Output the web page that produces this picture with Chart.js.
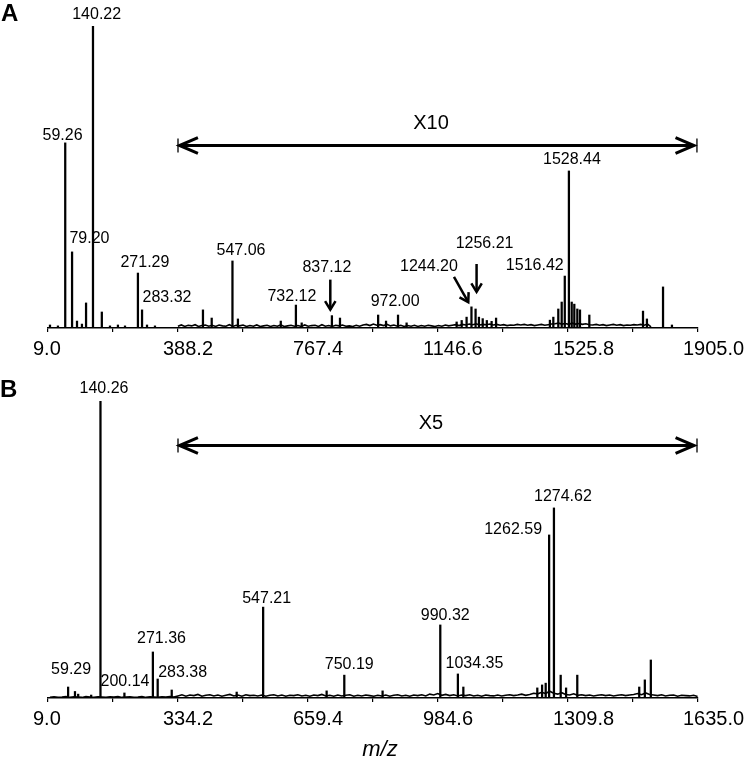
<!DOCTYPE html>
<html>
<head>
<meta charset="utf-8">
<script src="https://cdn.jsdelivr.net/npm/chart.js@4.4.1/dist/chart.umd.min.js"></script>
<style>
  html, body { margin: 0; padding: 0; background: #fff; }
  #wrap { position: relative; width: 745px; height: 760px; }
  canvas { position: absolute; left: 0; }
  #chartA { top: 0; }
  #chartB { top: 370px; }
</style>
</head>
<body>
<div id="wrap">
  <canvas id="chartA" width="745" height="370"></canvas>
  <canvas id="chartB" width="745" height="390"></canvas>
</div>
<script>
// ---- data: panel A ----
const ticksA = [9.0, 388.2, 767.4, 1146.6, 1525.8, 1905.0];
const peakMzA = [14.8, 38, 59.26, 79.20, 93.6, 108, 120, 140.22, 166, 189.8, 213, 233.6, 271.29, 283.32, 297.8, 321,
  461, 486.5, 547.06, 563, 688, 732.12, 749, 837.12, 860.7, 972.00, 995, 1030, 1055,
  1201, 1215.7, 1230, 1244.20, 1256.21, 1266, 1277, 1289, 1303, 1316,
  1473, 1483, 1497.5, 1507.4, 1516.42, 1528.44, 1536.6, 1544.2, 1553, 1560.8, 1588,
  1744.6, 1756, 1803, 1829];
const peakIntA = [1.0, 0.7, 61.3, 25.2, 2.3, 1.3, 8.3, 100, 5.3, 0.7, 1.0, 0.7, 18.2, 6.0, 1.0, 0.7,
  6.0, 3.3, 22.2, 3.0, 2.3, 7.6, 1.7, 4.1, 3.3, 4.3, 2.3, 4.3, 1.7,
  2.0, 2.5, 3.6, 7.0, 6.3, 3.6, 3.1, 2.5, 2.2, 3.3,
  2.6, 3.6, 6.3, 8.6, 17.2, 52, 8.6, 7.9, 6.3, 6.0, 4.3,
  5.6, 3.0, 13.6, 1.0];
const labelMzA = [140.22, 59.26, 79.20, 271.29, 283.32, 547.06, 732.12, 837.12, 972.00, 1244.20, 1256.21, 1516.42, 1528.44];
const arrowMzA = [837.12, 1244.20, 1256.21];
const zoomRangeA = [388.2, 1899];
const zoomTextA = 'X10';
// baseline noise of the x10 region, sampled every 10 m/z from 388
const noiseStartA = 388, noiseStepA = 10;
const noiseA = [
  0.6,1.0,0.5,0.9,0.7,1.1,0.5,0.8,1.0,0.6,
  0.9,0.5,1.0,0.7,0.6,1.1,0.5,0.9,0.7,1.0,
  0.5,0.8,0.6,1.0,0.5,0.7,0.9,0.5,0.8,0.6,
  1.0,0.5,0.7,0.9,0.6,0.8,0.5,1.0,0.6,0.8,
  0.9,0.5,1.1,0.6,0.8,0.5,0.9,0.7,1.0,0.6,
  0.7,0.5,0.9,0.6,1.0,1.2,0.8,1.3,0.9,1.1,
  0.8,1.2,0.7,1.0,0.6,0.9,0.5,0.8,0.6,0.9,
  0.5,0.8,0.6,0.9,0.7,0.5,0.8,0.6,1.0,0.7,
  0.9,1.1,0.8,1.2,1.0,1.3,1.1,1.4,1.0,1.2,
  1.1,1.3,1.0,1.2,0.9,1.1,0.8,1.0,0.9,1.2,
  1.0,1.2,0.9,1.1,0.8,1.0,1.2,0.9,1.1,1.3,
  1.4,1.6,1.3,1.5,1.2,1.6,1.3,1.5,1.2,1.4,
  1.1,1.0,1.2,0.9,1.1,0.8,1.0,1.2,0.9,1.1,
  0.8,1.0,0.9,1.1,1.0,1.2,0.9,1.3,0.4];

// ---- data: panel B ----
const ticksB = [9.0, 334.2, 659.4, 984.6, 1309.8, 1635.0];
const peakMzB = [59.29, 76.5, 84.5, 117, 140.26, 200.14, 271.36, 283.38, 318.5, 481, 547.21, 706, 750.19, 846,
  990.32, 1034.35, 1048, 1233, 1245, 1254, 1262.59, 1274.62, 1291.5, 1305, 1333, 1488, 1502, 1517];
const peakIntB = [3.7, 2.2, 1.3, 1.0, 100, 1.7, 15.5, 6.4, 2.7, 2.0, 30.6, 2.4, 7.7, 2.4,
  24.6, 8.1, 3.7, 3.4, 4.4, 5.0, 54.9, 64, 7.7, 3.4, 7.7, 3.7, 6.1, 12.8];
const labelMzB = [140.26, 59.29, 200.14, 271.36, 283.38, 547.21, 750.19, 990.32, 1034.35, 1262.59, 1274.62];
const zoomRangeB = [334.2, 1630];
const zoomTextB = 'X5';
const noiseStartB = 14, noiseStepB = 10;
const noiseB = [
  0.2,0.4,0.2,0.3,0.5,0.2,0.4,0.3,0.2,0.5,0.3,0.2,0.4,0.3,0.2,0.4,
  0.3,0.5,0.2,0.3,0.4,0.2,0.3,0.5,0.2,0.4,0.3,0.2,0.4,0.3,0.5,0.3,
  0.7,1.1,0.6,1.0,0.8,1.2,0.6,0.9,1.1,0.7,
  1.0,0.6,0.9,1.2,0.7,1.0,0.6,1.1,0.8,0.9,
  0.7,1.0,0.6,0.9,1.1,0.7,1.0,0.6,0.9,0.8,
  1.1,0.7,0.9,0.6,1.0,0.8,1.2,0.7,0.9,0.6,
  1.0,0.7,0.9,1.1,0.6,0.9,0.7,1.0,0.8,0.6,
  0.9,0.7,1.0,0.6,0.9,1.1,0.7,0.9,0.6,1.0,
  0.8,1.1,0.7,1.3,1.0,1.5,0.9,1.2,0.8,1.1,
  0.7,1.0,0.8,1.1,0.7,0.9,0.6,1.0,0.8,0.7,
  1.0,0.7,0.9,1.1,0.8,1.0,1.3,0.9,1.2,1.6,
  1.4,1.9,1.5,2.3,1.6,1.3,1.8,1.2,1.0,1.4,
  0.9,1.1,0.8,1.0,0.7,0.9,1.1,0.8,1.0,0.7,
  0.9,1.1,0.8,1.0,1.2,1.5,1.1,1.7,1.2,1.0,
  0.8,1.1,0.7,0.9,1.0,0.6,0.9,0.8,0.7,0.9,0.5];

// ---- layout / style (pixel offsets relative to each peak top) ----
const FONT = '"Liberation Sans", Arial, Helvetica, sans-serif';
const labelOffsetA = [[3.7,-11],[-2.7,-7],[17.4,-13],[7,-10],[25,-12.5],[8.5,-10],[-4,-8],[-5,-48],[17,-13],[-42.5,-40],[9,-65.5],[-30,-10],[3,-11]];
const arrowOffsetA = [[[-1.6,-36],[-1.6,-6]], [[-17.5,-30],[-3.2,-4.7]], [[1,-45],[1,-17]]];
const labelOffsetB = [[3.5,-12],[3,-17],[0.6,-11],[8.6,-13],[25,-6],[3.5,-9],[5,-11],[5,-9],[16.6,-10],[-36,-5.5],[9,-11]];

function arrowHead(ctx, x, y, ang, len, spread) {
  ctx.beginPath();
  ctx.moveTo(x - len * Math.cos(ang - spread), y - len * Math.sin(ang - spread));
  ctx.lineTo(x, y);
  ctx.lineTo(x - len * Math.cos(ang + spread), y - len * Math.sin(ang + spread));
  ctx.stroke();
}

function annotatePlugin(p) {
  return {
    id: 'annotate',
    afterDraw(chart) {
      const { ctx, chartArea, scales: { x, y } } = chart;
      const topOf = (mz) => y.getPixelForValue(p.int[p.mz.indexOf(mz)]);
      ctx.save();
      ctx.fillStyle = '#000';
      ctx.strokeStyle = '#000';
      ctx.lineCap = 'butt';

      // panel letter
      ctx.font = 'bold 24px ' + FONT;
      ctx.textAlign = 'left';
      ctx.textBaseline = 'middle';
      ctx.fillText(p.letter, p.letterPos[0], p.letterPos[1]);

      // peak labels
      ctx.font = '16px ' + FONT;
      ctx.textAlign = 'center';
      p.labels.forEach((mz, i) => {
        const [dx, dy] = p.labelOffset[i];
        ctx.fillText(mz.toFixed(2), x.getPixelForValue(mz) + dx, topOf(mz) + dy);
      });

      // small pointer arrows
      ctx.lineWidth = 2.5;
      (p.arrows || []).forEach((mz, i) => {
        const px = x.getPixelForValue(mz), py = topOf(mz);
        const [[x1, y1], [x2, y2]] = p.arrowOffset[i];
        const ax = px + x1, ay = py + y1, bx = px + x2, by = py + y2;
        ctx.beginPath();
        ctx.moveTo(ax, ay);
        ctx.lineTo(bx, by);
        ctx.stroke();
        arrowHead(ctx, bx, by, Math.atan2(by - ay, bx - ax), 10, 0.55);
      });

      // zoom range double arrow
      const xa = x.getPixelForValue(p.range[0]);
      const xb = x.getPixelForValue(p.range[1]);
      const ya = Math.round(y.getPixelForValue(p.rangeY)) + 0.5;
      ctx.lineWidth = 3;
      ctx.beginPath();
      ctx.moveTo(xa + 2, ya);
      ctx.lineTo(xb - 2, ya);
      ctx.stroke();
      arrowHead(ctx, xa + 1.5, ya, Math.PI, 20, 0.4);
      arrowHead(ctx, xb - 2, ya, 0, 20, 0.4);
      ctx.lineWidth = 1.3;
      ctx.beginPath();
      ctx.moveTo(xa, ya - 7); ctx.lineTo(xa, ya + 7);
      ctx.moveTo(xb + 1, ya - 7); ctx.lineTo(xb + 1, ya + 7);
      ctx.stroke();
      ctx.font = '20px ' + FONT;
      ctx.fillText(p.rangeText, (xa + xb) / 2 - 6, ya - 22);

      // axis title
      if (p.title) {
        ctx.font = 'italic 22px ' + FONT;
        ctx.fillText(p.title, (chartArea.left + chartArea.right) / 2 + 7, chartArea.bottom + 52);
      }
      ctx.restore();
    }
  };
}

function makeChart(id, d) {
  const peaks = d.mz.map((m, i) => ({ x: m, y: d.int[i] }));
  const noise = d.noise.map((v, i) => ({ x: d.noiseStart + i * d.noiseStep, y: v }));
  const tickVals = [];
  d.ticks.forEach((t, i) => {
    tickVals.push(t);
    if (i < d.ticks.length - 1) tickVals.push((t + d.ticks[i + 1]) / 2);
  });

  return new Chart(document.getElementById(id), {
    type: 'bar',
    data: {
      datasets: [
        {
          type: 'line',
          data: noise,
          borderColor: '#000',
          borderWidth: 1.6,
          pointRadius: 0,
          tension: 0,
          fill: false
        },
        {
          type: 'bar',
          data: peaks,
          backgroundColor: '#000',
          borderWidth: 0,
          barThickness: 1.6,
          grouped: false
        }
      ]
    },
    options: {
      responsive: false,
      animation: false,
      events: [],
      layout: { padding: { top: d.padTop, bottom: d.padBottom, left: 48, right: 47 } },
      plugins: { legend: { display: false }, tooltip: { enabled: false } },
      scales: {
        x: {
          type: 'linear',
          offset: false,
          min: d.ticks[0],
          max: d.ticks[d.ticks.length - 1],
          afterBuildTicks: (s) => { s.ticks = tickVals.map(v => ({ value: v })); },
          afterFit: (s) => { s.height = 40; s.paddingLeft = 0; s.paddingRight = 0; },
          border: { display: true, color: '#000', width: 1.5 },
          grid: { display: true, offset: false, drawOnChartArea: false, drawTicks: true, tickLength: 4, color: '#000', lineWidth: 1.2 },
          ticks: {
            autoSkip: false,
            maxRotation: 0,
            align: 'start',
            labelOffset: -15,
            padding: 5,
            color: '#000',
            font: { family: FONT, size: 20 },
            callback: (v, i) => (i % 2 === 0 ? Number(v).toFixed(1) : '')
          }
        },
        y: { display: false, min: 0, max: 100 }
      }
    },
    plugins: [annotatePlugin(d.annot)]
  });
}

makeChart('chartA', {
  ticks: ticksA, mz: peakMzA, int: peakIntA,
  noise: noiseA, noiseStart: noiseStartA, noiseStep: noiseStepA,
  padTop: 26, padBottom: 2,
  annot: {
    letter: 'A', letterPos: [1, 14],
    mz: peakMzA, int: peakIntA,
    labels: labelMzA, labelOffset: labelOffsetA,
    arrows: arrowMzA, arrowOffset: arrowOffsetA,
    range: zoomRangeA, rangeY: 60.6, rangeText: zoomTextA
  }
});

makeChart('chartB', {
  ticks: ticksB, mz: peakMzB, int: peakIntB,
  noise: noiseB, noiseStart: noiseStartB, noiseStep: noiseStepB,
  padTop: 31, padBottom: 22,
  annot: {
    letter: 'B', letterPos: [0, 20],
    mz: peakMzB, int: peakIntB,
    labels: labelMzB, labelOffset: labelOffsetB,
    range: zoomRangeB, rangeY: 85.2, rangeText: zoomTextB,
    title: 'm/z'
  }
});
</script>
</body>
</html>
